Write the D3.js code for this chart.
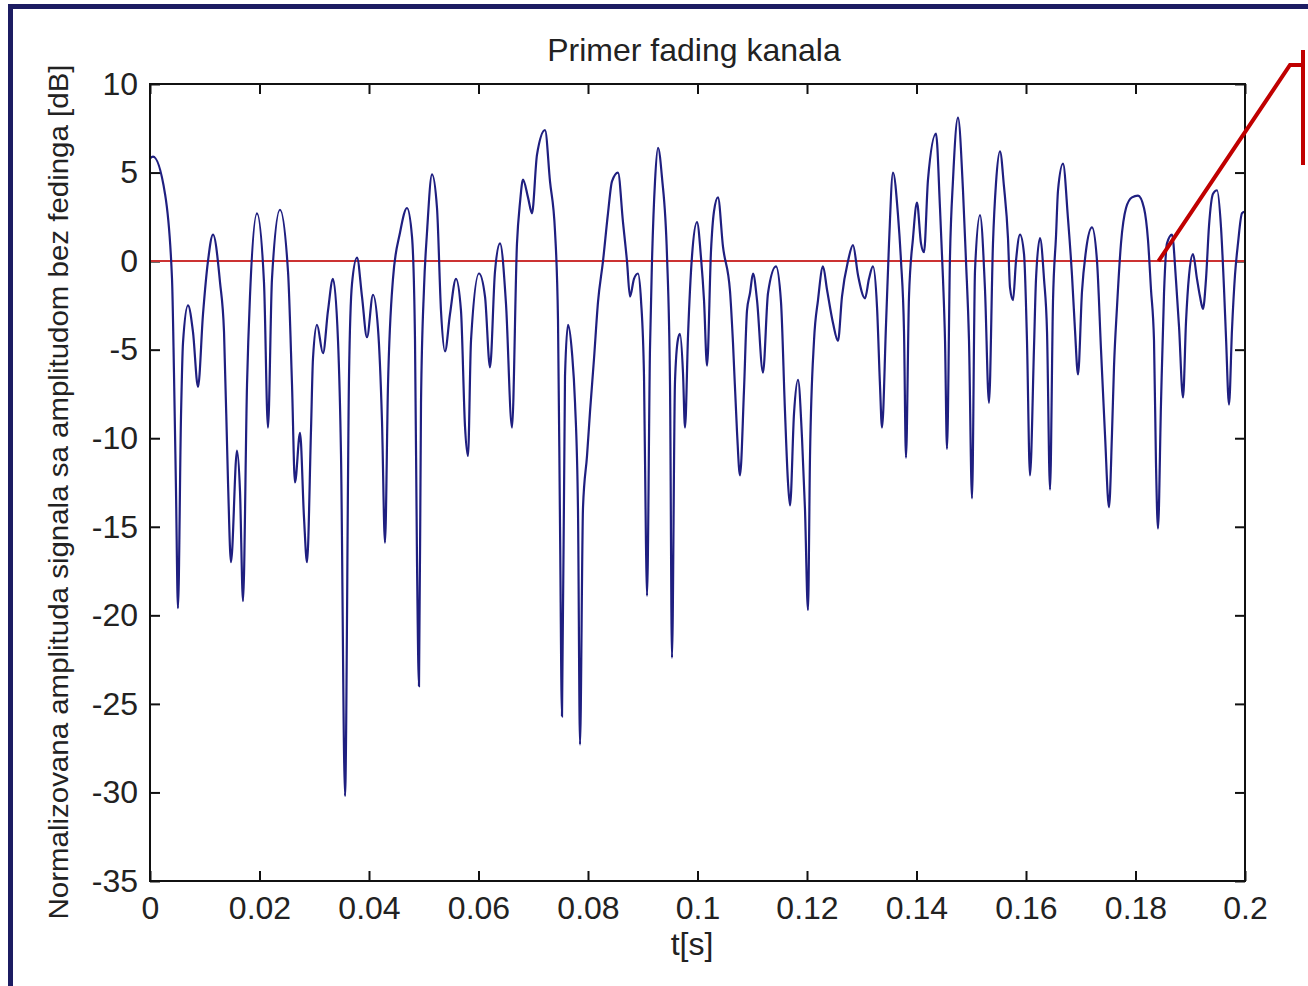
<!DOCTYPE html>
<html>
<head>
<meta charset="utf-8">
<script src="https://cdn.jsdelivr.net/npm/d3@7"></script>
<style>
  body { margin: 0; background: #fff; }
  svg { display: block; font-family: "Liberation Sans", Arial, sans-serif; }
</style>
</head>
<body>
<div id="chart"></div>
<script>
// time [s] of each read point and fading level [dB]
var timeS = [
  0, 0.00055, 0.00274, 0.00402, 0.00438, 0.00475, 0.00511, 0.00566, 0.00603, 0.00694,
  0.00785, 0.00877, 0.00968, 0.01059, 0.01151, 0.01279, 0.01352, 0.01425, 0.01479, 0.01589,
  0.01644, 0.01699, 0.01772, 0.01826, 0.01954, 0.02082, 0.02155, 0.02228, 0.02374, 0.02521,
  0.02594, 0.02648, 0.02740, 0.02813, 0.02868, 0.02941, 0.02977, 0.03050, 0.03160, 0.03251,
  0.03342, 0.03434, 0.03489, 0.03562, 0.03635, 0.03689, 0.03781, 0.03872, 0.03963, 0.04073,
  0.04164, 0.04237, 0.04292, 0.04347, 0.04438, 0.04566, 0.04694, 0.04785, 0.04840, 0.04877,
  0.04913, 0.04950, 0.05005, 0.05059, 0.05151, 0.05242, 0.05315, 0.05388, 0.05479, 0.05589,
  0.05680, 0.05753, 0.05808, 0.05863, 0.06009, 0.06119, 0.06210, 0.06301, 0.06393, 0.06502,
  0.06612, 0.06703, 0.06758, 0.06813, 0.06904, 0.06977, 0.07068, 0.07215, 0.07306, 0.07397,
  0.07452, 0.07489, 0.07525, 0.07580, 0.07635, 0.07708, 0.07763, 0.07817, 0.07854, 0.07909,
  0.07982, 0.08037, 0.08110, 0.08183, 0.08274, 0.08365, 0.08438, 0.08548, 0.08639, 0.08712,
  0.08767, 0.08840, 0.08913, 0.08968, 0.09023, 0.09059, 0.09078, 0.09132, 0.09169, 0.09224,
  0.09279, 0.09352, 0.09443, 0.09498, 0.09534, 0.09589, 0.09644, 0.09680, 0.09735, 0.09772,
  0.09827, 0.09900, 0.09991, 0.10064, 0.10119, 0.10174, 0.10247, 0.10301, 0.10374, 0.10466,
  0.10594, 0.10648, 0.10721, 0.10776, 0.10849, 0.10904, 0.10959, 0.11014, 0.11087, 0.11196,
  0.11288, 0.11434, 0.11525, 0.11598, 0.11653, 0.11690, 0.11763, 0.11836, 0.11909, 0.11963,
  0.12018, 0.12055, 0.12128, 0.12201, 0.12292, 0.12365, 0.12475, 0.12566, 0.12639, 0.12749,
  0.12840, 0.12932, 0.13059, 0.13132, 0.13205, 0.13279, 0.13333, 0.13370, 0.13443, 0.13498,
  0.13571, 0.13662, 0.13717, 0.13772, 0.13808, 0.13863, 0.13936, 0.14009, 0.14082, 0.14137,
  0.14210, 0.14356, 0.14429, 0.14484, 0.14521, 0.14557, 0.14612, 0.14667, 0.14758, 0.14849,
  0.14904, 0.14959, 0.15014, 0.15069, 0.15160, 0.15251, 0.15324, 0.15397, 0.15452, 0.15525,
  0.15598, 0.15671, 0.15708, 0.15763, 0.15817, 0.15891, 0.15964, 0.16018, 0.16073, 0.16146,
  0.16183, 0.16256, 0.16329, 0.16384, 0.16439, 0.16493, 0.16548, 0.16585, 0.16676, 0.16767,
  0.16840, 0.16895, 0.16950, 0.17023, 0.17096, 0.17206, 0.17297, 0.17370, 0.17443, 0.17516,
  0.17571, 0.17607, 0.17662, 0.17735, 0.17827, 0.17936, 0.18046, 0.18155, 0.18228, 0.18283,
  0.18338, 0.18374, 0.18411, 0.18466, 0.18521, 0.18575, 0.18667, 0.18740, 0.18795, 0.18868,
  0.18923, 0.18978, 0.19050, 0.19123, 0.19178, 0.19233, 0.19288, 0.19343, 0.19416, 0.19489,
  0.19562, 0.19616, 0.19653, 0.19708, 0.19762, 0.19817, 0.19872, 0.19945, 0.20000
];
var levelDb = [
  5.8, 5.9, 3.8, -1.0, -6.3, -13, -19.6, -8.8, -4.6, -2.5,
  -4.0, -7.1, -3.0, 0, 1.5, -1.2, -4.0, -12.5, -17.0, -10.7,
  -13, -19.2, -7.0, -2.0, 2.7, -1.2, -9.4, -1.0, 2.9, -0.6,
  -7.0, -12.5, -9.7, -14.5, -17.0, -9.5, -5.5, -3.6, -5.2, -2.8,
  -1.0, -4.5, -11, -30.2, -6.5, -1.3, 0.2, -2.0, -4.3, -1.9,
  -3.8, -9.0, -15.9, -7.0, -1.0, 1.6, 3.0, 1.4, -4.4, -17,
  -24, -8.0, -1.5, 1.6, 4.9, 3.0, -2.8, -5.1, -3.0, -1.0,
  -2.8, -9.3, -11, -4.5, -0.7, -2.0, -6.0, -0.6, 1.0, -2.4,
  -9.4, 1.0, 3.3, 4.6, 3.6, 2.7, 6.0, 7.4, 4.5, 1.7,
  -3.3, -15, -25.7, -6.5, -3.6, -5.2, -8.0, -14, -27.3, -13.9,
  -11, -8.5, -5.5, -2.3, 0, 2.7, 4.5, 5.0, 2.2, 0,
  -2.0, -1.0, -0.7, -2.2, -6.5, -16, -18.9, -5.0, 0, 4.5,
  6.4, 4.7, 0.3, -7.0, -22.4, -6.8, -4.4, -4.1, -6.3, -9.4,
  -4.2, 0.3, 2.2, 0.2, -2.2, -5.9, 0.6, 2.8, 3.6, 0.8,
  -1.7, -4.6, -9.6, -12.1, -7.3, -2.8, -1.8, -0.7, -2.2, -6.3,
  -1.8, -0.3, -2.3, -8.5, -12.5, -13.8, -8.6, -6.7, -10, -14,
  -19.7, -11, -4.5, -2.2, -0.3, -1.6, -3.5, -4.5, -2.0, 0,
  0.9, -0.8, -2.1, -1.0, -0.3, -2.6, -7.0, -9.4, -3.6, 1.0,
  5.0, 2.6, 0, -4.0, -11.1, -2.0, 1.3, 3.3, 1.0, 0.5,
  4.6, 7.2, 3.0, -1.0, -4.5, -10.6, 0.3, 4.6, 8.1, 4.0,
  0, -4.5, -13.4, -0.5, 2.6, -1.6, -8.0, 1.0, 4.4, 6.2,
  4.2, 1.3, -1.5, -2.2, 0, 1.5, 0.4, -4.5, -12.1, -4.9,
  -1.0, 1.3, -1.0, -4.0, -12.9, -2.3, 1.4, 4.0, 5.5, 2.4,
  -0.8, -3.9, -6.4, -1.7, 0.6, 1.9, 0, -5.0, -9.8, -13.9,
  -9.7, -6.0, -2.6, 1.0, 3.0, 3.6, 3.7, 3.0, 1.2, -1.6,
  -4.5, -11.4, -15.1, -8.0, -1.8, 1.0, 1.5, -1.1, -3.7, -7.7,
  -3.4, -0.8, 0.4, -1.0, -2.0, -2.7, -1.0, 2.0, 3.8, 4.0,
  1.9, -1.5, -4.3, -8.1, -3.9, -0.8, 1.0, 2.7, 2.8
];
var xTicks = [0, 0.02, 0.04, 0.06, 0.08, 0.1, 0.12, 0.14, 0.16, 0.18, 0.2];
var yTicks = [10, 5, 0, -5, -10, -15, -20, -25, -30, -35];
var calloutTime = 0.1842;

var W = 1308, H = 986;
var margin = {top: 84, right: 63, bottom: 105, left: 150},
    width = W - margin.left - margin.right,
    height = H - margin.top - margin.bottom;

var svg = d3.select("#chart").append("svg")
    .attr("width", W)
    .attr("height", H);

// slide frame
svg.append("rect")
    .attr("x", 10.5).attr("y", 6.5)
    .attr("width", 1400).attr("height", 1100)
    .attr("fill", "#fff")
    .attr("stroke", "#1c1c62")
    .attr("stroke-width", 5);

var g = svg.append("g")
    .attr("transform", "translate(" + margin.left + "," + margin.top + ")");

var x = d3.scaleLinear().domain([0, 0.2]).range([0, width]);
var y = d3.scaleLinear().domain([-35, 10]).range([height, 0]);

function styleAxis(sel) {
  sel.select(".domain").remove();
  sel.selectAll(".tick line").attr("stroke", "#111").attr("stroke-width", 2);
  sel.selectAll(".tick text").attr("fill", "#222").attr("font-size", 32)
    .attr("font-family", "'Liberation Sans', Arial, sans-serif");
}

// matlab style labels: plain hyphen minus
function plain(d) { return String(+d.toFixed(2)); }

g.append("g")
    .attr("transform", "translate(0," + height + ")")
    .call(d3.axisBottom(x).tickValues(xTicks).tickSize(-10).tickPadding(15).tickFormat(plain))
    .call(styleAxis);

g.append("g")
    .call(d3.axisTop(x).tickValues(xTicks).tickSize(-10).tickFormat(""))
    .call(styleAxis);

g.append("g")
    .call(d3.axisLeft(y).tickValues(yTicks).tickSize(-10).tickPadding(12).tickFormat(plain))
    .call(styleAxis);

g.append("g")
    .attr("transform", "translate(" + width + ",0)")
    .call(d3.axisRight(y).tickValues(yTicks).tickSize(-10).tickFormat(""))
    .call(styleAxis);

// zero reference
g.append("line")
    .attr("x1", x(0)).attr("x2", x(0.2))
    .attr("y1", y(0)).attr("y2", y(0))
    .attr("stroke", "#cc3333")
    .attr("stroke-width", 2);

var pts = timeS.map(function(t, i) { return [t, levelDb[i]]; });

var line = d3.line()
    .x(function(d) { return x(d[0]); })
    .y(function(d) { return y(d[1]); })
    .curve(d3.curveMonotoneX);

g.append("path")
    .datum(pts)
    .attr("fill", "none")
    .attr("stroke", "#1f1f80")
    .attr("stroke-width", 2.2)
    .attr("d", line);

g.append("rect")
    .attr("width", width).attr("height", height)
    .attr("fill", "none")
    .attr("stroke", "#111")
    .attr("stroke-width", 2);

// title and labels
svg.append("text")
    .attr("x", 694).attr("y", 61)
    .attr("text-anchor", "middle")
    .attr("font-size", 32).attr("fill", "#222")
    .text("Primer fading kanala");

svg.append("text")
    .attr("x", 692).attr("y", 955)
    .attr("text-anchor", "middle")
    .attr("font-size", 32).attr("fill", "#222")
    .text("t[s]");

svg.append("text")
    .attr("transform", "translate(68,492) rotate(-90)")
    .attr("text-anchor", "middle")
    .attr("font-size", 28).attr("fill", "#222")
    .attr("textLength", 855).attr("lengthAdjust", "spacingAndGlyphs")
    .text("Normalizovana amplituda signala sa amplitudom bez fedinga [dB]");

// callout
var cx0 = margin.left + x(calloutTime), cy0 = margin.top + y(0);
svg.append("path")
    .attr("d", "M" + cx0 + "," + cy0 + "L1290,65L1303,65")
    .attr("fill", "none")
    .attr("stroke", "#c00000")
    .attr("stroke-width", 4);
svg.append("line")
    .attr("x1", 1303).attr("x2", 1303)
    .attr("y1", 50).attr("y2", 165)
    .attr("stroke", "#c00000")
    .attr("stroke-width", 4);
</script>
</body>
</html>
